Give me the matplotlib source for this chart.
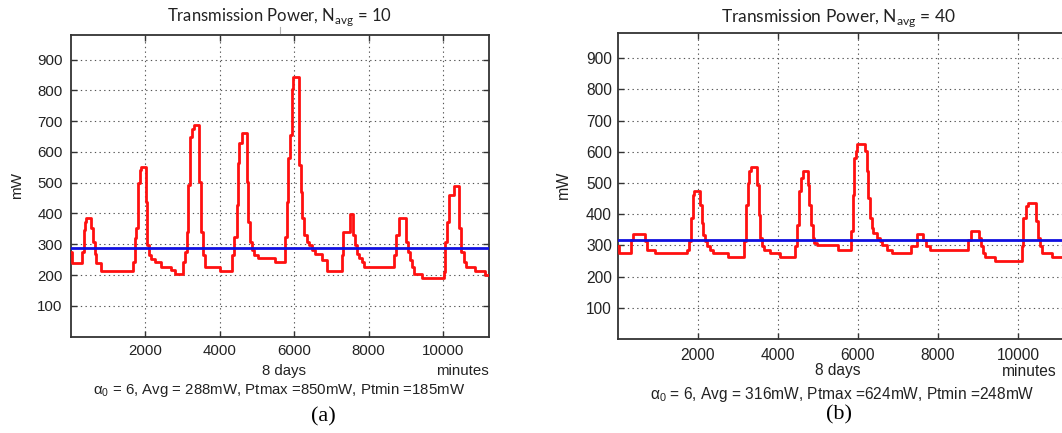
import matplotlib
matplotlib.use("Agg")
import matplotlib.pyplot as plt
from matplotlib.lines import Line2D

# ---- data: step start times (minutes) and transmission power (mW) ----
t_end = 11244

left_t = [0, 30, 298, 344, 371, 414, 548, 594, 640, 683, 817, 1669, 1714, 1758, 1803,
          1849, 1876, 2010, 2054, 2099, 2161, 2268, 2413, 2699, 2806, 3013, 3058, 3121,
          3148, 3193, 3255, 3308, 3434, 3488, 3550, 3595, 4007, 4321, 4391, 4456, 4483,
          4526, 4607, 4723, 4767, 4813, 4859, 4921, 5036, 5485, 5754, 5799, 5843, 5889,
          5935, 5960, 6130, 6184, 6219, 6273, 6336, 6398, 6471, 6560, 6740, 6874, 7277,
          7321, 7509, 7573, 7627, 7689, 7734, 7823, 7868, 8675, 8737, 8809, 9006, 9051,
          9105, 9167, 9230, 9436, 10018, 10062, 10107, 10169, 10288, 10439, 10484, 10555,
          10618, 10868, 11129]
left_p = [276, 238, 276, 346, 373, 386, 352, 308, 270, 238, 213, 243, 321, 352, 498,
          541, 550, 438, 297, 265, 252, 241, 226, 216, 202, 243, 276, 340,
          492, 649, 676, 687, 503, 340, 265, 227, 213, 265, 324, 427, 563,
          628, 660, 503, 373, 308, 281, 265, 256, 243, 324, 438, 579, 654,
          806, 842, 557, 470, 384, 330, 308, 297, 281, 267, 249, 213, 265,
          341, 397, 330, 297, 270, 254, 241, 227, 265, 330, 386, 308, 276,
          249, 227, 203, 189, 211, 308, 373, 460, 489, 352, 276, 243,
          227, 213, 200]

right_t = [0, 30, 337, 395, 686, 728, 936, 1726, 1784, 1834, 1875, 1917, 2058, 2100,
           2142, 2183, 2225, 2308, 2391, 2765, 3164, 3206, 3248, 3289, 3331, 3473, 3520,
           3560, 3600, 3660, 3805, 4055, 4429, 4471, 4537, 4571, 4621, 4745, 4787, 4828,
           4870, 4911, 4970, 5509, 5818, 5868, 5909, 5951, 5983, 6175, 6217, 6258, 6300,
           6342, 6383, 6467, 6550, 6592, 6717, 6841, 7329, 7480, 7630, 7690, 7797, 8753,
           8812, 9019, 9069, 9127, 9169, 9418, 10085, 10125, 10184, 10250, 10434, 10484,
           10542, 10584, 10833]
right_p = [297, 276, 318, 337, 313, 286, 276, 286, 313, 388, 463, 476, 431, 373,
           334, 313, 297, 286, 276, 262, 313, 431, 500, 538, 551, 495, 399,
           324, 297, 286, 276, 263, 297, 367, 474, 516, 538, 495, 431, 367,
           324, 308, 300, 286, 345, 463, 581, 603, 626, 602, 538, 452, 388,
           356, 340, 324, 313, 302, 286, 276, 299, 338, 318, 297, 286, 318,
           347, 324, 297, 276, 262, 250, 297, 388, 425, 436, 377, 324,
           297, 276, 262]

avg_left = 288
avg_right = 316

x_ticks = [2000, 4000, 6000, 8000, 10000]
y_ticks = [100, 200, 300, 400, 500, 600, 700, 800, 900]

titles = ["Transmission Power, N$_\\mathregular{avg}$ = 10",
          "Transmission Power, N$_\\mathregular{avg}$ = 40"]
captions = ["\u03b1$_\\mathregular{0}$ = 6, Avg = 288mW, Ptmax =850mW, Ptmin =185mW",
            "\u03b1$_\\mathregular{0}$ = 6, Avg = 316mW, Ptmax =624mW, Ptmin =248mW"]
panel_tags = ["(a)", "(b)"]

W, H = 1062, 433
fig = plt.figure(figsize=(W / 100, H / 100), dpi=100)
fig.patch.set_facecolor("white")

SANS = ["Liberation Sans", "DejaVu Sans"]
TITLE_FONT = ["Lato", "DejaVu Sans"]


def fx(x):
    return x / W


def fy(y):
    return 1 - y / H


def rect(l, t, r, b):
    return [fx(l), fy(b), (r - l) / W, (b - t) / H]


def panel(ax, t, p, avg, tick_fs, ypad, xpad):
    tt = list(t) + [t_end]
    pp = list(p) + [p[-1]]
    ax.step(tt, pp, where="post", color="#ff1010", lw=2.0, zorder=3)
    ax.axhline(avg, color="#1010e0", lw=2.0, zorder=4)
    ax.set_xlim(0, t_end)
    ax.set_ylim(0, 980)
    ax.set_xticks(x_ticks)
    ax.set_yticks(y_ticks)
    ax.grid(True, color="#555555", lw=0.8, linestyle=(0, (1.2, 3.0)))
    ax.tick_params(direction="in", top=True, right=True, length=4, width=1,
                   color="#333333", labelcolor="#222222", labelsize=tick_fs)
    ax.tick_params(axis="y", pad=ypad)
    ax.tick_params(axis="x", pad=xpad)
    for lab in ax.get_xticklabels() + ax.get_yticklabels():
        lab.set_family(SANS)
    for s in ax.spines.values():
        s.set_color("#333333")
        s.set_linewidth(1.3)


axL = fig.add_axes(rect(70.9, 35.0, 489.3, 336.6))
panel(axL, left_t, left_p, avg_left, 10.8, 6.0, 5.0)
axR = fig.add_axes(rect(617.5, 33.3, 1068.0, 339.1))
panel(axR, right_t, right_p, avg_right, 11.2, 4.0, 6.5)

# titles
fig.text(fx(280), fy(16.7), titles[0], ha="center", va="center",
         fontsize=12, family=TITLE_FONT, color="#222222")
fig.text(fx(839), fy(18.3), titles[1], ha="center", va="center",
         fontsize=12.5, family=TITLE_FONT, color="#222222")
fig.add_artist(Line2D([fx(279.7), fx(279.7)], [fy(27), fy(33)],
                      color="#b0b0b0", lw=0.8))

# y labels
fig.text(fx(17), fy(185), "mW", rotation=90, ha="center", va="center",
         fontsize=11, family=SANS, color="#222222")
fig.text(fx(563), fy(185), "mW", rotation=90, ha="center", va="center",
         fontsize=11.5, family=SANS, color="#222222")

# x labels
fig.text(fx(283.8), fy(371), "8 days", ha="center", va="center",
         fontsize=10.8, family=SANS, color="#222222")
fig.text(fx(462), fy(371), "minutes", ha="center", va="center",
         fontsize=10.8, family=SANS, color="#222222")
fig.text(fx(837.5), fy(371), "8 days", ha="center", va="center",
         fontsize=11.2, family=SANS, color="#222222")
fig.text(fx(1028.8), fy(371), "minutes", ha="center", va="center",
         fontsize=11.2, family=SANS, color="#222222")

# parameter summaries
fig.text(fx(279), fy(390), captions[0], ha="center", va="center",
         fontsize=10.8, family=SANS, color="#222222")
fig.text(fx(842.5), fy(395), captions[1], ha="center", va="center",
         fontsize=11.2, family=SANS, color="#222222")

# panel tags
fig.text(fx(323), fy(417), panel_tags[0], ha="center", va="center",
         fontsize=16, family=["Liberation Serif", "DejaVu Serif"], color="black")
fig.text(fx(839), fy(415), panel_tags[1], ha="center", va="center",
         fontsize=16, family=["Liberation Serif", "DejaVu Serif"], color="black")

fig.savefig("out.png", dpi=100, facecolor="white")
